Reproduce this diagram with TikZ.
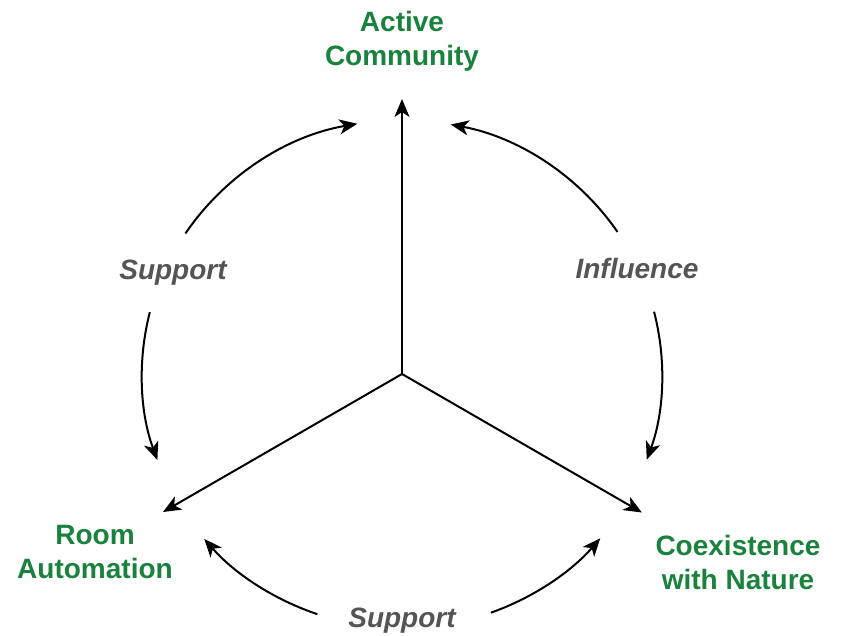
\documentclass[tikz,border=0pt]{standalone}
\usepackage{fontspec}
\setmainfont{Liberation Sans}
\usepackage{xcolor}
\usepackage{tikz}
\usetikzlibrary{arrows.meta,positioning}
\definecolor{leafgreen}{RGB}{25,130,60}
\definecolor{labelgray}{RGB}{85,85,85}

\begin{document}
\begin{tikzpicture}[x=1pt, y=1pt]
% Define styles
\tikzstyle{pillar} = [text=leafgreen, font=\fontsize{28}{34}\selectfont\bfseries, align=center, inner sep=0pt]
\tikzstyle{relation} = [text=labelgray, font=\fontsize{28}{34}\selectfont\bfseries\itshape, anchor=base, inner sep=0pt]
\tikzstyle{arrow} = [line width=2pt, -{Stealth[length=18pt,width=15pt,inset=5pt]}]

\useasboundingbox (-402,-261) rectangle (440,374);

% Place nodes
\coordinate (hub) at (0,0);
\coordinate (up) at (90:275);
\coordinate (left) at (210:276);
\coordinate (right) at (-30:277);
\node (community) [pillar] at (0,333) {Active\\Community};
\node (room) [pillar] at (-307,-178) {Room\\Automation};
\node (nature) [pillar] at (336,-188) {Coexistence\\with Nature};
\node (supportl) [relation] at (-229,95) {Support};
\node (influence) [relation] at (235,96) {Influence};
\node (supportb) [relation] at (0,-253) {Support};

% Draw arrows
\draw [arrow] (hub) -- (up);
\draw [arrow] (hub) -- (left);
\draw [arrow] (hub) -- (right);
\draw [arrow] ([shift={(146.4:260 and 254)}]hub) arc [start angle=146.4, end angle=99.9, x radius=260, y radius=254];
\draw [arrow] ([shift={(165.9:260 and 254)}]hub) arc [start angle=165.9, end angle=199.8, x radius=260, y radius=254];
\draw [arrow] ([shift={(34:260 and 254)}]hub) arc [start angle=34, end angle=79.2, x radius=260, y radius=254];
\draw [arrow] ([shift={(14.2:260 and 254)}]hub) arc [start angle=14.2, end angle=-19.7, x radius=260, y radius=254];
\draw [arrow] ([shift={(251:260 and 254)}]hub) arc [start angle=251, end angle=220.5, x radius=260, y radius=254];
\draw [arrow] ([shift={(-70:260 and 254)}]hub) arc [start angle=-70, end angle=-40.3, x radius=260, y radius=254];
\end{tikzpicture}
\end{document}
